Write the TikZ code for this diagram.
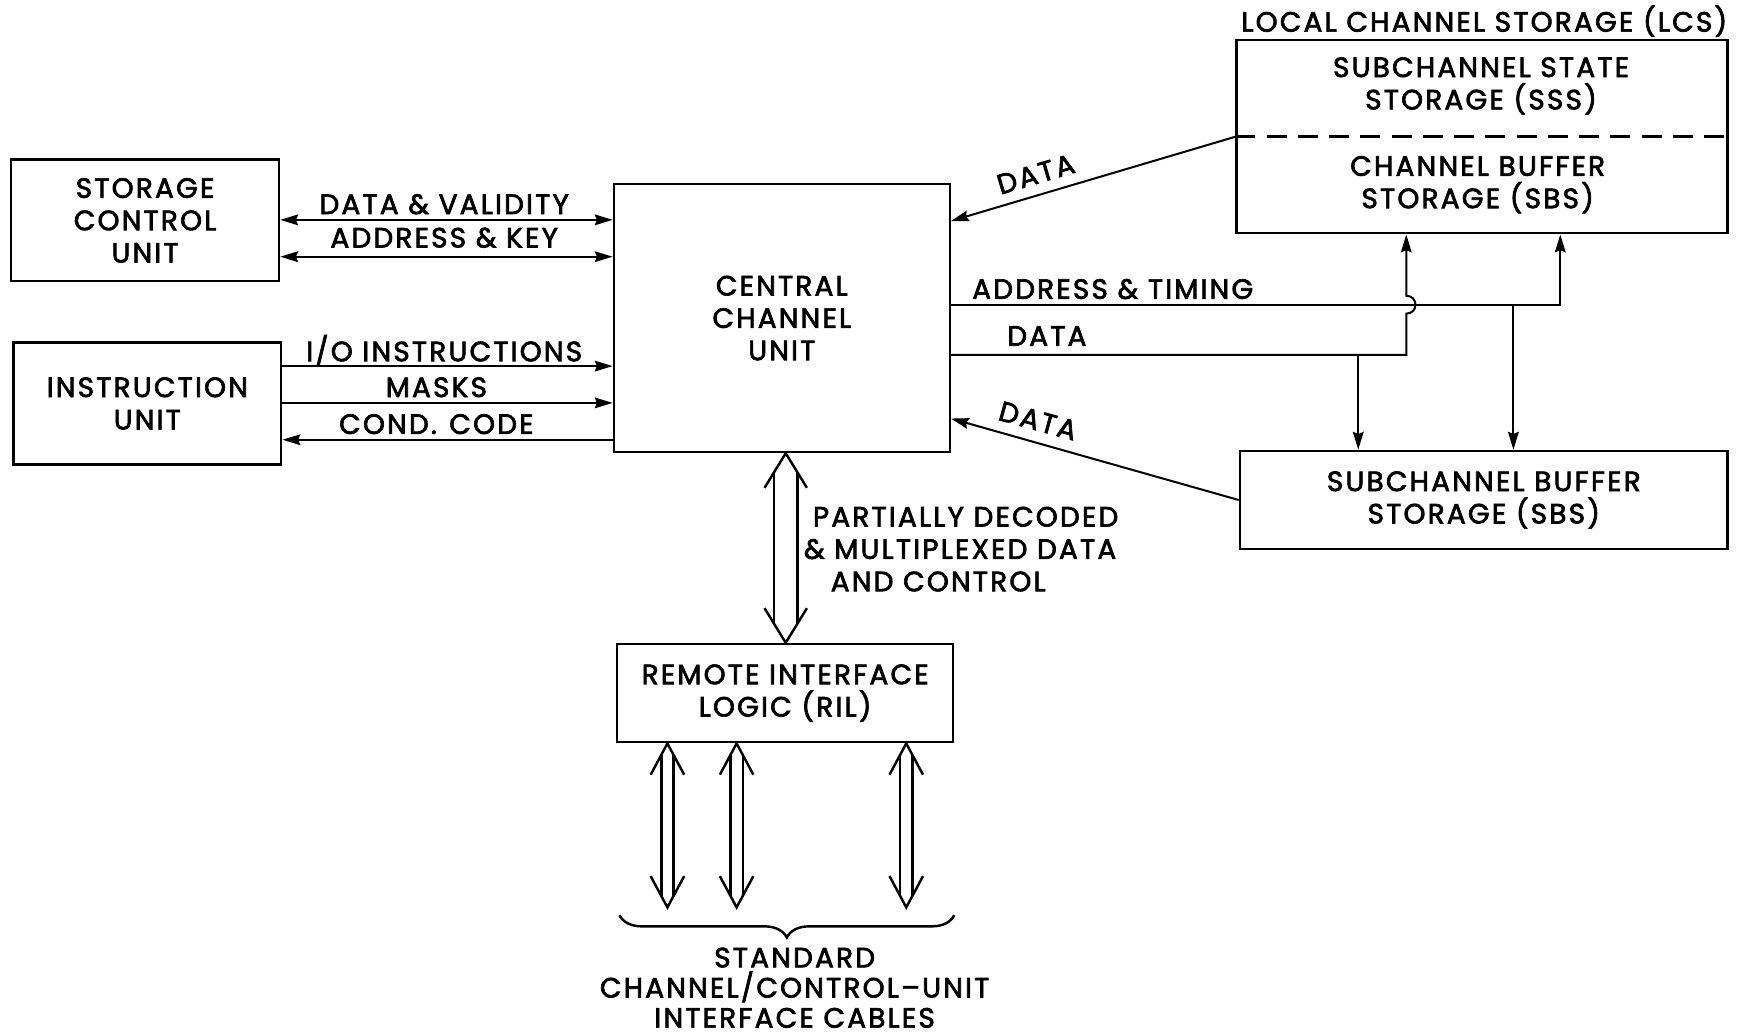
\documentclass[tikz,border=0pt]{standalone}
\usepackage{fontspec}
\setmainfont{Poppins}[LetterSpace=8, FakeBold=2.5]
\usetikzlibrary{arrows.meta,decorations.pathreplacing,calc}

\newcommand\lbl{\fontsize{12.5}{14.5}\selectfont}

% open double-headed "wide" arrow: top point, bottom point, shaft half width, head half width, head length
\newcommand\hollowdbl[5]{%
  \draw[hol] ($(#1)+(-#4,#5)$) -- (#1) -- ($(#1)+(#4,#5)$);
  \draw[hol] ($(#2)+(-#4,-#5)$) -- (#2) -- ($(#2)+(#4,-#5)$);
  \draw[hol] ($(#1)+(-#3,{#5*#3/#4})$) -- ($(#2)+(-#3,{-#5*#3/#4})$);
  \draw[hol] ($(#1)+(#3,{#5*#3/#4})$) -- ($(#2)+(#3,{-#5*#3/#4})$);
}

\tikzset{
  blk/.style={draw, line width=1.1pt, inner sep=0pt, align=center, font=\lbl},
  lab/.style={inner sep=0pt, align=center, font=\lbl},
  tip/.tip={Stealth[length=8pt,width=4.8pt,inset=1pt]},
  sig/.style={line width=0.9pt, -tip},
  sigb/.style={line width=0.9pt, tip-tip},
  hol/.style={line width=1.1pt, line join=miter},
}

\begin{document}
\begin{tikzpicture}[x=0.5pt,y=-0.5pt]
\path[use as bounding box] (0,0) rectangle (1568,928);

% blocks
\node[blk, minimum width=120pt, minimum height=54.5pt] (scu) at (130,197.5) {STORAGE\\CONTROL\\UNIT};
\node[blk, minimum width=120pt, minimum height=54.5pt] (iu) at (132,361.5) {INSTRUCTION\\UNIT};
\node[blk, minimum width=150.5pt, minimum height=120pt] (ccu) at (700.5,285) {CENTRAL\\CHANNEL\\UNIT};
\node[blk, minimum width=220pt, minimum height=86.5pt] (lcs) at (1328,122.5) {};
\node[blk, minimum width=218.5pt, minimum height=44pt] (sbs) at (1329.5,448) {SUBCHANNEL BUFFER\\STORAGE (SBS)};
\node[blk, minimum width=150.5pt, minimum height=44pt] (ril) at (703.5,621) {REMOTE INTERFACE\\LOGIC (RIL)};

% local channel storage contents
\draw[line width=1.1pt, dash pattern=on 9pt off 5pt] (lcs.west) -- (lcs.east);
\node[lab] (sss) at (1327,77) {SUBCHANNEL STATE\\STORAGE (SSS)};
\node[lab] (cbs) at (1324,165.5) {CHANNEL BUFFER\\STORAGE (SBS)};
\coordinate (lcsl) at (1548,19);
\node[lab, anchor=east] (lcst) at (lcsl) {LOCAL CHANNEL STORAGE (LCS)};

% storage control unit <-> central channel unit
\coordinate (y1) at (0,197);
\coordinate (y2) at (0,230);
\draw[sigb] (scu.east |- y1) -- (ccu.west |- y1);
\draw[sigb] (scu.east |- y2) -- (ccu.west |- y2);
\node[lab] (l1) at (398,183) {DATA \& VALIDITY};
\node[lab] (l2) at (398,213) {ADDRESS \& KEY};

% instruction unit <-> central channel unit
\coordinate (y3) at (0,328);
\coordinate (y4) at (0,361);
\coordinate (y5) at (0,394);
\draw[sig] (iu.east |- y3) -- (ccu.west |- y3);
\draw[sig] (iu.east |- y4) -- (ccu.west |- y4);
\draw[sig] (ccu.west |- y5) -- (iu.east |- y5);
\node[lab] (l3) at (398,314) {I/O INSTRUCTIONS};
\node[lab] (l4) at (391,347) {MASKS};
\node[lab] (l5) at (391,380) {COND.\hspace{0.45em}CODE};

% data paths from the storages into the central channel unit
\coordinate (y6) at (0,198);
\coordinate (y7) at (0,375);
\draw[sig] (lcs.west) -- (ccu.east |- y6);
\draw[sig] (sbs.west) -- (ccu.east |- y7);
\node[lab, rotate=16.5] (l6) at (928,156) {DATA};
\node[lab, rotate=-15.3] (l7) at (930,377) {DATA};

% address & timing and data out to the storages
\coordinate (at) at (1398,273);
\coordinate (dt) at (1260,318);
\coordinate (j1) at (1217,318);
\coordinate (j2) at (1356,273);
\draw[sig] (ccu.east |- at) -- (at) -- (lcs.south -| at);
\draw[sig] (ccu.east |- dt) -- (dt) -- ($(dt |- at)+(0,8)$)
  .. controls +(11,0) and +(11,0) .. ($(dt |- at)+(0,-8)$) -- (lcs.south -| dt);
\draw[sig] (j1) -- (sbs.north -| j1);
\draw[sig] (j2) -- (sbs.north -| j2);
\node[lab] (l8) at (997,259) {ADDRESS \& TIMING};
\node[lab] (l9) at (938,301) {DATA};

% central channel unit <-> remote interface logic
\coordinate (bx) at (704,0);
\hollowdbl{ccu.south -| bx}{ril.north -| bx}{10.5}{19}{31}
\node[lab, anchor=west, align=left] (l10) at (720,492)
  {\hspace*{4pt}PARTIALLY DECODED\\\& MULTIPLEXED DATA\\\hspace*{12pt}AND CONTROL};

% interface cables
\coordinate (c1) at (598,813);
\coordinate (c2) at (660,813);
\coordinate (c3) at (812,813);
\hollowdbl{ril.south -| c1}{c1}{5.5}{15}{28}
\hollowdbl{ril.south -| c2}{c2}{5.5}{15}{28}
\hollowdbl{ril.south -| c3}{c3}{5.5}{15}{28}

\coordinate (bl) at (555,820);
\coordinate (br) at (855,820);
\draw[line width=1.1pt, decorate, decoration={brace, amplitude=10pt, mirror}] (bl) -- (br);
\node[lab, font=\fontsize{12.5}{13.5}\selectfont] (l11) at (712,885)
  {STANDARD\\CHANNEL/CONTROL--UNIT\\INTERFACE CABLES};
\end{tikzpicture}
\end{document}
